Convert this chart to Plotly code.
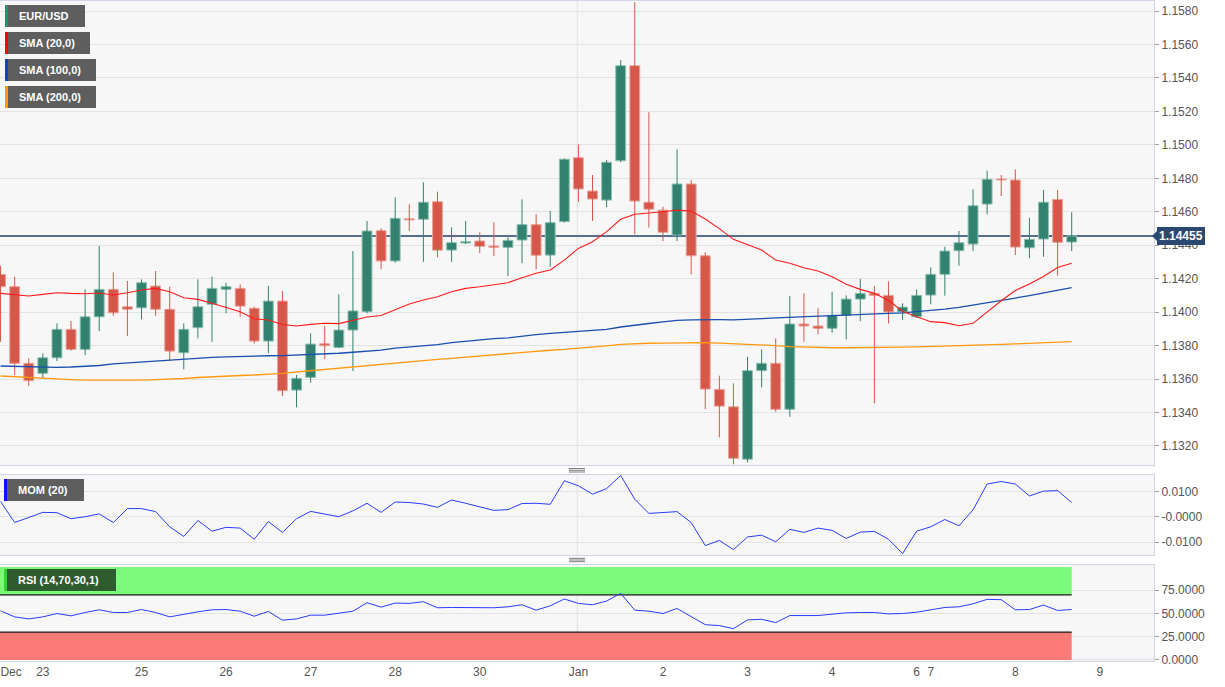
import plotly.graph_objects as go

# ---------------- data ----------------
idx = list(range(77))

open_ = [1.14226, 1.14152, 1.13694, 1.13634, 1.13727, 1.13897, 1.13777, 1.13972, 1.14136, 1.14032,
         1.14026, 1.14156, 1.14017, 1.13757, 1.13907, 1.14047, 1.14136, 1.14142, 1.14023, 1.13827,
         1.14066, 1.13534, 1.13610, 1.13811, 1.13789, 1.13893, 1.14002, 1.14487, 1.14306, 1.14558,
         1.14555, 1.14660, 1.14371, 1.14413, 1.14425, 1.14395, 1.14387, 1.14431, 1.14523, 1.14341,
         1.14541, 1.14923, 1.14724, 1.14670, 1.14905, 1.15473, 1.14657, 1.14610, 1.14461, 1.14766,
         1.14337, 1.13538, 1.13434, 1.13121, 1.13650, 1.13694, 1.13419, 1.13929, 1.13917, 1.13903,
         1.13981, 1.14078, 1.14112, 1.14100, 1.14001, 1.13972, 1.14102, 1.14226, 1.14367, 1.14407,
         1.14646, 1.14796, 1.14790, 1.14385, 1.14437, 1.14674, 1.14419]

high = [1.14277, 1.14212, 1.13724, 1.13754, 1.13933, 1.13947, 1.14136, 1.14395, 1.14238, 1.14186,
        1.14196, 1.14246, 1.14152, 1.13933, 1.14196, 1.14212, 1.14176, 1.14166, 1.14032, 1.14156,
        1.14126, 1.13624, 1.13873, 1.13917, 1.14106, 1.14365, 1.14545, 1.14501, 1.14686, 1.14645,
        1.14776, 1.14720, 1.14507, 1.14545, 1.14477, 1.14537, 1.14447, 1.14674, 1.14585, 1.14605,
        1.14918, 1.15003, 1.14820, 1.14910, 1.15507, 1.15853, 1.15195, 1.14630, 1.14973, 1.14790,
        1.14358, 1.13620, 1.13574, 1.13733, 1.13777, 1.13843, 1.14096, 1.14112, 1.14023, 1.14122,
        1.14100, 1.14198, 1.14156, 1.14183, 1.14053, 1.14136, 1.14268, 1.14391, 1.14485, 1.14734,
        1.14846, 1.14820, 1.14854, 1.14564, 1.14730, 1.14730, 1.14597]

low = [1.13823, 1.13624, 1.13558, 1.13604, 1.13708, 1.13770, 1.13743, 1.13887, 1.13978, 1.13857,
       1.13957, 1.13978, 1.13708, 1.13658, 1.13843, 1.13823, 1.13993, 1.13972, 1.13813, 1.13754,
       1.13498, 1.13431, 1.13578, 1.13718, 1.13785, 1.13648, 1.13993, 1.14256, 1.14295, 1.14485,
       1.14301, 1.14328, 1.14301, 1.14407, 1.14352, 1.14335, 1.14216, 1.14292, 1.14256, 1.14271,
       1.14536, 1.14657, 1.14545, 1.14627, 1.14896, 1.14465, 1.14505, 1.14425, 1.14425, 1.14226,
       1.13420, 1.13251, 1.13090, 1.13102, 1.13550, 1.13404, 1.13374, 1.13823, 1.13867, 1.13877,
       1.13837, 1.13945, 1.13455, 1.13932, 1.13953, 1.13965, 1.14047, 1.14098, 1.14277, 1.14365,
       1.14585, 1.14694, 1.14341, 1.14322, 1.14331, 1.14218, 1.14365]

close = [1.14152, 1.13694, 1.13590, 1.13727, 1.13897, 1.13777, 1.13972, 1.14136, 1.13996, 1.14017,
         1.14176, 1.14017, 1.13767, 1.13897, 1.14032, 1.14142, 1.14152, 1.14036, 1.13827, 1.14066,
         1.13530, 1.13604, 1.13809, 1.13799, 1.13893, 1.14007, 1.14485, 1.14306, 1.14561, 1.14551,
         1.14657, 1.14370, 1.14415, 1.14421, 1.14393, 1.14387, 1.14429, 1.14523, 1.14340, 1.14535,
         1.14914, 1.14736, 1.14676, 1.14896, 1.15473, 1.14664, 1.14615, 1.14477, 1.14766, 1.14337,
         1.13540, 1.13438, 1.13126, 1.13650, 1.13694, 1.13419, 1.13929, 1.13917, 1.13903, 1.13981,
         1.14078, 1.14112, 1.14100, 1.14001, 1.14030, 1.14100, 1.14226, 1.14365, 1.14415, 1.14636,
         1.14794, 1.14790, 1.14389, 1.14435, 1.14657, 1.14417, 1.14455]

sma20 = [1.14112, 1.14102, 1.14096, 1.14106, 1.14116, 1.14112, 1.14110, 1.14114, 1.14102, 1.14116,
         1.14132, 1.14142, 1.14122, 1.14086, 1.14076, 1.14053, 1.14029, 1.14002, 1.13960, 1.13953,
         1.13926, 1.13917, 1.13927, 1.13933, 1.13931, 1.13951, 1.13971, 1.13980, 1.14015, 1.14048,
         1.14072, 1.14092, 1.14122, 1.14142, 1.14152, 1.14162, 1.14176, 1.14206, 1.14232, 1.14252,
         1.14311, 1.14381, 1.14421, 1.14481, 1.14555, 1.14585, 1.14591, 1.14600, 1.14610, 1.14604,
         1.14557, 1.14499, 1.14435, 1.14405, 1.14371, 1.14311, 1.14292, 1.14265, 1.14246, 1.14212,
         1.14166, 1.14136, 1.14112, 1.14069, 1.14005, 1.13972, 1.13943, 1.13937, 1.13919, 1.13933,
         1.14001, 1.14068, 1.14129, 1.14168, 1.14213, 1.14267, 1.14292]

sma100 = [1.13678, 1.13675, 1.13672, 1.13670, 1.13670, 1.13672, 1.13675, 1.13681, 1.13690, 1.13696,
          1.13702, 1.13708, 1.13714, 1.13719, 1.13725, 1.13730, 1.13733, 1.13736, 1.13737, 1.13739,
          1.13740, 1.13743, 1.13746, 1.13749, 1.13754, 1.13760, 1.13767, 1.13773, 1.13785, 1.13792,
          1.13797, 1.13806, 1.13818, 1.13827, 1.13833, 1.13841, 1.13846, 1.13857, 1.13866, 1.13873,
          1.13880, 1.13887, 1.13892, 1.13897, 1.13911, 1.13923, 1.13932, 1.13942, 1.13951, 1.13954,
          1.13956, 1.13955, 1.13954, 1.13956, 1.13961, 1.13965, 1.13969, 1.13972, 1.13975, 1.13978,
          1.13983, 1.13987, 1.13990, 1.13993, 1.13996, 1.14002, 1.14010, 1.14018, 1.14029, 1.14042,
          1.14057, 1.14072, 1.14084, 1.14099, 1.14114, 1.14130, 1.14146]

sma200 = [1.13618, 1.13613, 1.13609, 1.13606, 1.13601, 1.13597, 1.13594, 1.13593, 1.13592, 1.13592,
          1.13594, 1.13596, 1.13598, 1.13603, 1.13609, 1.13614, 1.13617, 1.13621, 1.13624, 1.13628,
          1.13634, 1.13642, 1.13650, 1.13657, 1.13666, 1.13673, 1.13681, 1.13688, 1.13696, 1.13703,
          1.13711, 1.13718, 1.13724, 1.13731, 1.13739, 1.13748, 1.13754, 1.13760, 1.13766, 1.13772,
          1.13777, 1.13783, 1.13790, 1.13798, 1.13807, 1.13812, 1.13814, 1.13815, 1.13816, 1.13818,
          1.13818, 1.13815, 1.13812, 1.13808, 1.13804, 1.13800, 1.13794, 1.13791, 1.13788, 1.13787,
          1.13787, 1.13789, 1.13790, 1.13790, 1.13791, 1.13792, 1.13794, 1.13795, 1.13798, 1.13801,
          1.13804, 1.13807, 1.13810, 1.13813, 1.13817, 1.13820, 1.13823]

mom = [0.0060, -0.0023, -0.0003, 0.0017, 0.0016, -0.0008, 0.0000, 0.0011, -0.0023, 0.0032,
       0.0032, 0.0020, -0.0040, -0.0078, -0.0015, -0.0057, -0.0042, -0.0045, -0.0089, -0.0019,
       -0.0062, -0.0008, 0.0021, 0.0009, 0.0000, 0.0023, 0.0053, 0.0017, 0.0058, 0.0056,
       0.0050, 0.0037, 0.0066, 0.0053, 0.0040, 0.0025, 0.0028, 0.0052, 0.0053, 0.0049,
       0.0142, 0.0122, 0.0089, 0.0111, 0.0163, 0.0069, 0.0013, 0.0017, 0.0020, -0.0023,
       -0.0114, -0.0094, -0.0130, -0.0080, -0.0073, -0.0099, -0.0050, -0.0062, -0.0045, -0.0054,
       -0.0086, -0.0061, -0.0058, -0.0089, -0.0146, -0.0057, -0.0040, -0.0011, -0.0036, 0.0027,
       0.0129, 0.0139, 0.0129, 0.0082, 0.0101, 0.0103, 0.0056]

rsi = [52.9, 46.4, 44.2, 46.4, 50.0, 47.5, 51.1, 54.0, 51.1, 51.1,
       54.3, 51.1, 46.4, 49.3, 51.8, 54.0, 54.3, 52.5, 47.1, 52.2,
       42.8, 44.2, 48.2, 48.2, 50.0, 52.5, 61.6, 56.9, 61.2, 60.9,
       62.7, 56.2, 56.5, 56.5, 56.2, 56.2, 57.2, 59.4, 53.6, 58.3,
       65.6, 60.9, 59.4, 63.4, 71.7, 53.6, 52.5, 50.0, 55.4, 46.4,
       38.0, 37.0, 33.7, 43.1, 43.8, 40.2, 47.8, 47.8, 47.8, 49.3,
       50.7, 51.1, 51.1, 49.6, 50.0, 51.4, 54.0, 56.5, 57.2, 60.5,
       65.2, 64.9, 54.0, 54.3, 59.1, 53.3, 54.3]

x_tick_pos = [0.75, 3, 10, 16, 22, 28, 34, 41, 47, 53, 59, 65, 66, 72, 78]
x_tick_text = ["Dec", "23", "25", "26", "27", "28", "30", "Jan", "2", "3", "4", "6", "7", "8", "9"]

price_ticks = [1.1320, 1.1340, 1.1360, 1.1380, 1.1400, 1.1420, 1.1440,
               1.1460, 1.1480, 1.1500, 1.1520, 1.1540, 1.1560, 1.1580]
mom_ticks = [0.01, 0.0, -0.01]
mom_tick_text = ["0.0100", "-0.0000", "-0.0100"]
rsi_ticks = [0, 25, 50, 75]
rsi_tick_text = ["0.0000", "25.0000", "50.0000", "75.0000"]
last_price = 1.14455

# ---------------- styling helpers ----------------
W_PLOT = 1154.0
TOP, BOT = 1.0, 661.0


def pxx(x):
    return x / W_PLOT


def pxy(y):
    return (BOT - y) / (BOT - TOP)


FONT = "Liberation Sans, Arial, sans-serif"
UP = "#32826f"
DOWN = "#d5584a"
UP_EDGE = "#8fc0b2"
DOWN_EDGE = "#eca59b"
XR = [-0.04, 81.84]

fig = go.Figure()

# ---- candles: wicks (lines) + bodies (bars), built from the OHLC lists ----
for is_up, col, edge in ((True, UP, UP_EDGE), (False, DOWN, DOWN_EDGE)):
    sel = [i for i in idx if (close[i] >= open_[i]) == is_up]
    wx, wy = [], []
    for i in sel:
        wx += [i, i, None]
        wy += [low[i], high[i], None]
    fig.add_trace(go.Scatter(x=wx, y=wy, mode="lines", line=dict(color=col, width=1),
                             hoverinfo="skip", showlegend=False, xaxis="x", yaxis="y"))
for is_up, col, edge in ((True, UP, UP_EDGE), (False, DOWN, DOWN_EDGE)):
    sel = [i for i in idx if (close[i] >= open_[i]) == is_up]
    fig.add_trace(go.Bar(
        x=sel,
        base=[min(open_[i], close[i]) for i in sel],
        y=[max(abs(close[i] - open_[i]), 0.00002) for i in sel],
        width=0.7, marker=dict(color=col, line=dict(color=edge, width=1)),
        hoverinfo="skip", showlegend=False, xaxis="x", yaxis="y"))

fig.add_trace(go.Scatter(x=idx, y=sma200, mode="lines", line=dict(color="#ff9a10", width=1.3),
                         hoverinfo="skip", showlegend=False, xaxis="x", yaxis="y"))
fig.add_trace(go.Scatter(x=idx, y=sma100, mode="lines", line=dict(color="#1a4fae", width=1.3),
                         hoverinfo="skip", showlegend=False, xaxis="x", yaxis="y"))
fig.add_trace(go.Scatter(x=idx, y=sma20, mode="lines", line=dict(color="#ff1a1a", width=1.1),
                         hoverinfo="skip", showlegend=False, xaxis="x", yaxis="y"))

fig.add_trace(go.Scatter(x=idx, y=mom, mode="lines", line=dict(color="#2a3cff", width=1),
                         hoverinfo="skip", showlegend=False, xaxis="x2", yaxis="y2"))
fig.add_trace(go.Scatter(x=idx, y=rsi, mode="lines", line=dict(color="#2a3cff", width=1),
                         hoverinfo="skip", showlegend=False, xaxis="x3", yaxis="y3"))

axis_line = "#cfd6e6"
tickfont = dict(family=FONT, size=12, color="#555555")

common_x = dict(range=XR, showgrid=False, zeroline=False, showline=True, mirror=True,
                linecolor=axis_line, linewidth=1, fixedrange=True)
common_y = dict(side="right", showgrid=True, gridcolor="#e3e3e3", gridwidth=1, zeroline=False,
                showline=True, mirror=True, linecolor=axis_line, linewidth=1,
                ticks="outside", ticklen=4, tickcolor="#a0a0a0", tickfont=tickfont, fixedrange=True)

shapes = []
# vertical grid line at Jan in each panel
for xr_, yr_ in (("x", "y domain"), ("x2", "y2 domain"), ("x3", "y3 domain")):
    shapes.append(dict(type="line", xref=xr_, yref=yr_, x0=40.92, x1=40.92, y0=0, y1=1,
                       line=dict(color="#e3e3e3", width=1), layer="below"))

# RSI bands
shapes.append(dict(type="rect", xref="x3", yref="y3", x0=XR[0], x1=76, y0=70, y1=100,
                   fillcolor="#7cfa7c", line=dict(width=0), layer="between"))
shapes.append(dict(type="rect", xref="x3", yref="y3", x0=XR[0], x1=76, y0=0, y1=30,
                   fillcolor="#fa7b78", line=dict(width=0), layer="between"))
shapes.append(dict(type="line", xref="x3", yref="y3", x0=XR[0], x1=76, y0=70, y1=70,
                   line=dict(color="#1a1a1a", width=1.2), layer="between"))
shapes.append(dict(type="line", xref="x3", yref="y3", x0=XR[0], x1=76, y0=30, y1=30,
                   line=dict(color="#1a1a1a", width=1.2), layer="between"))

# last price line
shapes.append(dict(type="line", xref="paper", yref="y", x0=0, x1=1, y0=last_price, y1=last_price,
                   line=dict(color="#22406c", width=1.4), layer="between"))
# little arrow of price tag
shapes.append(dict(type="path", xref="paper", yref="paper",
                   path=f"M {pxx(1152)} {pxy(236)} L {pxx(1157)} {pxy(231)} L {pxx(1157)} {pxy(241)} Z",
                   fillcolor="#2a4870", line=dict(width=0), layer="above"))

# panel resize handles
for ys in ((468.5, 470.3, 472.0), (558.3, 560.0, 561.7)):
    for yy in ys:
        shapes.append(dict(type="line", xref="paper", yref="paper", x0=pxx(569), x1=pxx(585),
                           y0=pxy(yy), y1=pxy(yy), line=dict(color="#7a7a7a", width=1)))

# indicator label boxes (strip + box)
boxes = [
    (5, 8, 85, 5, 27, "#2e8c6e", "#5e5e5e", "EUR/USD"),
    (5, 8, 90, 32, 54, "#ff0000", "#5e5e5e", "SMA (20,0)"),
    (5, 8, 96, 59, 81, "#1448b0", "#5e5e5e", "SMA (100,0)"),
    (5, 8, 96, 86, 108, "#ff9a00", "#5e5e5e", "SMA (200,0)"),
    (4, 7, 84, 479, 501, "#1010ff", "#5e5e5e", "MOM (20)"),
    (4, 7, 116, 569, 591, "#33d633", "#2f5c2f", "RSI (14,70,30,1)"),
]
annotations = []
for xs, xb, xe, y0, y1, strip, bg, label in boxes:
    shapes.append(dict(type="rect", xref="paper", yref="paper", x0=pxx(xs), x1=pxx(xb),
                       y0=pxy(y1), y1=pxy(y0), fillcolor=strip, line=dict(width=0), layer="above"))
    shapes.append(dict(type="rect", xref="paper", yref="paper", x0=pxx(xb), x1=pxx(xe),
                       y0=pxy(y1), y1=pxy(y0), fillcolor=bg, line=dict(width=0), layer="above"))
    annotations.append(dict(xref="paper", yref="paper", x=pxx(xb + 9), y=pxy((y0 + y1) / 2),
                            xanchor="left", yanchor="middle", showarrow=False,
                            text=f"<b>{label}</b>",
                            font=dict(family=FONT, size=11, color="#ffffff")))

# last price tag
annotations.append(dict(xref="paper", yref="y", x=1, xshift=3, y=last_price, xanchor="left",
                        yanchor="middle", showarrow=False, text="<b>1.14455</b>",
                        bgcolor="#2a4870", bordercolor="#2a4870", borderpad=1,
                        font=dict(family=FONT, size=12, color="#ffffff")))

fig.update_layout(
    width=1225, height=687,
    margin=dict(l=0, r=71, t=1, b=26),
    paper_bgcolor="#ffffff", plot_bgcolor="#f7f7f7",
    showlegend=False, hovermode=False,
    barmode="overlay",
    xaxis=dict(**common_x, domain=[0, 1], anchor="y", showticklabels=False),
    xaxis2=dict(**common_x, domain=[0, 1], anchor="y2", matches="x", showticklabels=False),
    xaxis3=dict(**common_x, domain=[0, 1], anchor="y3", matches="x",
                tickvals=x_tick_pos, ticktext=x_tick_text, tickfont=tickfont, ticks=""),
    yaxis=dict(**common_y, domain=[pxy(465), 1], anchor="x", range=[1.13086, 1.15860],
               tickvals=price_ticks, ticktext=[f"{v:.4f}" for v in price_ticks]),
    yaxis2=dict(**common_y, domain=[pxy(555), pxy(475)], anchor="x2", range=[-0.01513, 0.01647],
                tickvals=mom_ticks, ticktext=mom_tick_text),
    yaxis3=dict(**common_y, domain=[0, pxy(565)], anchor="x3", range=[-1.1, 102.2],
                tickvals=rsi_ticks, ticktext=rsi_tick_text),
    shapes=shapes,
    annotations=annotations,
)

fig.write_html("out.html")
